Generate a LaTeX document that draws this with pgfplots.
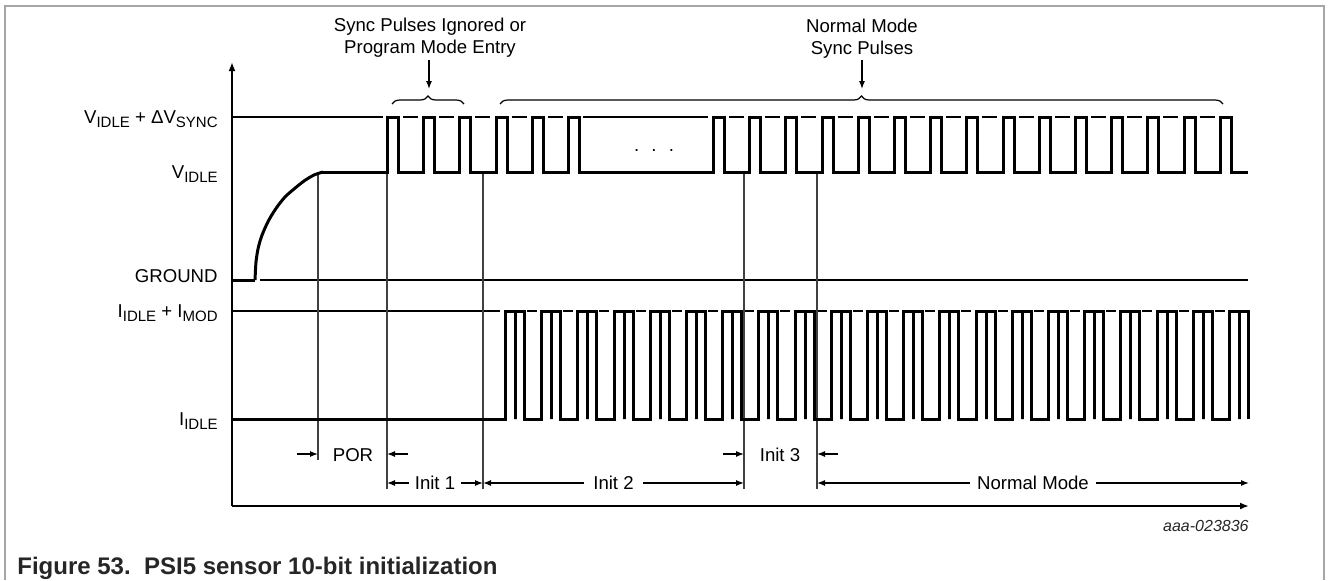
\documentclass[border=0pt]{standalone}
\usepackage{pgfplots}
\pgfplotsset{compat=1.18}
\usepackage{fontspec}
\setmainfont{Liberation Sans}
\usetikzlibrary{arrows.meta,decorations.pathreplacing}

% subscript as in the datasheet: smaller caps, slightly lowered
\newcommand\sub[1]{\raisebox{-2bp}{\fontsize{7.5bp}{8bp}\selectfont #1}}

\begin{document}
\begin{tikzpicture}[
  >={Latex[length=4bp,width=3bp]},
  lbl/.style={font=\fontsize{9.3bp}{11bp}\selectfont, inner sep=0pt},
  dim/.style={line width=0.6bp},
]
\begin{axis}[
  x=0.5bp, y=0.5bp, y dir=reverse,
  xmin=0, xmax=1328, ymin=0, ymax=580,
  hide axis, clip=false,
  every axis plot/.append style={line join=miter, mark=none},
]
\path (axis cs:0,0) rectangle (axis cs:1328,580);
% frame
\draw[black!35, line width=0.75bp] (axis cs:5,580) -- (axis cs:5,6) -- (axis cs:1324,6) -- (axis cs:1324,580);

% reference levels (thin)
\addplot[black, line width=0.7bp] coordinates {(232,117) (383,117)};
\addplot[black, line width=0.7bp] coordinates {(583,117) (708,117)};
\addplot[black, line width=0.7bp, dash pattern=on 7.5bp off 10.6bp] coordinates {(403,117) (563,117)};
\addplot[black, line width=0.7bp, dash pattern=on 7.5bp off 10.6bp] coordinates {(729,117) (1215,117)};
\addplot[black, line width=0.7bp] coordinates {(260,280) (1248,280)};
\addplot[black, line width=0.7bp] coordinates {(232,311) (500,311)};
\addplot[black, line width=0.7bp, dash pattern=on 5bp off 13.1bp] coordinates {(527,311) (1225,311)};

% phase boundaries
\addplot[black!75, line width=0.6bp] coordinates {(318,172) (318,460)};
\addplot[black!75, line width=0.6bp] coordinates {(387,172) (387,489)};
\addplot[black!75, line width=0.6bp] coordinates {(483,172) (483,489)};
\addplot[black!75, line width=0.6bp] coordinates {(744,172) (744,489)};
\addplot[black!75, line width=0.6bp] coordinates {(817,172) (817,489)};

% supply voltage: power-up ramp
\addplot[black, line width=1.5bp] coordinates {(232,280) (255,280)};
\addplot[black, line width=1.5bp, smooth] coordinates {
  (255,280) (256,262) (258,249) (261,238) (265,228) (270,218) (277,207)
  (285,197) (294,189) (304,181) (314,175) (323,172)};
% supply voltage: sync pulses
\addplot[black, line width=1.5bp] coordinates {
  (320,172)
  (387,172)(387,117)(398,117)(398,172)
  (423,172)(423,117)(434,117)(434,172)
  (459,172)(459,117)(470,117)(470,172)
  (496,172)(496,117)(507,117)(507,172)
  (532,172)(532,117)(543,117)(543,172)
  (568,172)(568,117)(579,117)(579,172)
  (713,172)(713,117)(724,117)(724,172)
  (749,172)(749,117)(760,117)(760,172)
  (785,172)(785,117)(796,117)(796,172)
  (822,172)(822,117)(833,117)(833,172)
  (858,172)(858,117)(869,117)(869,172)
  (894,172)(894,117)(905,117)(905,172)
  (930,172)(930,117)(941,117)(941,172)
  (966,172)(966,117)(977,117)(977,172)
  (1003,172)(1003,117)(1014,117)(1014,172)
  (1039,172)(1039,117)(1050,117)(1050,172)
  (1075,172)(1075,117)(1086,117)(1086,172)
  (1111,172)(1111,117)(1122,117)(1122,172)
  (1147,172)(1147,117)(1158,117)(1158,172)
  (1184,172)(1184,117)(1195,117)(1195,172)
  (1220,172)(1220,117)(1231,117)(1231,172)
  (1248,172)};

% sensor current
\addplot[black, line width=1.5bp] coordinates {
  (232,419)
  (505,419)(505,311)(515,311)(515,419)(515,311)(524,311)(524,419)
  (541,419)(541,311)(551,311)(551,419)(551,311)(560,311)(560,419)
  (577,419)(577,311)(587,311)(587,419)(587,311)(596,311)(596,419)
  (614,419)(614,311)(624,311)(624,419)(624,311)(633,311)(633,419)
  (650,419)(650,311)(660,311)(660,419)(660,311)(669,311)(669,419)
  (686,419)(686,311)(696,311)(696,419)(696,311)(705,311)(705,419)
  (722,419)(722,311)(732,311)(732,419)(732,311)(741,311)(741,419)
  (758,419)(758,311)(768,311)(768,419)(768,311)(777,311)(777,419)
  (795,419)(795,311)(805,311)(805,419)(805,311)(814,311)(814,419)
  (831,419)(831,311)(841,311)(841,419)(841,311)(850,311)(850,419)
  (867,419)(867,311)(877,311)(877,419)(877,311)(886,311)(886,419)
  (903,419)(903,311)(913,311)(913,419)(913,311)(922,311)(922,419)
  (939,419)(939,311)(949,311)(949,419)(949,311)(958,311)(958,419)
  (976,419)(976,311)(986,311)(986,419)(986,311)(995,311)(995,419)
  (1012,419)(1012,311)(1022,311)(1022,419)(1022,311)(1031,311)(1031,419)
  (1048,419)(1048,311)(1058,311)(1058,419)(1058,311)(1067,311)(1067,419)
  (1084,419)(1084,311)(1094,311)(1094,419)(1094,311)(1103,311)(1103,419)
  (1120,419)(1120,311)(1130,311)(1130,419)(1130,311)(1139,311)(1139,419)
  (1157,419)(1157,311)(1167,311)(1167,419)(1167,311)(1176,311)(1176,419)
  (1193,419)(1193,311)(1203,311)(1203,419)(1203,311)(1212,311)(1212,419)
  (1229,419)(1229,311)(1239,311)(1239,419)(1239,311)(1248,311)(1248,419)};

% axes
\draw[line width=0.9bp, -{Latex[length=4.5bp,width=3.5bp]}] (axis cs:232,506) -- (axis cs:232,62);
\draw[line width=0.9bp, -{Latex[length=4.5bp,width=3.5bp]}] (axis cs:232,506) -- (axis cs:1249,506);

% level labels
\node[lbl, anchor=base east] at (axis cs:218,123.5) {V\sub{IDLE} + ΔV\sub{SYNC}};
\node[lbl, anchor=base east] at (axis cs:218,178.5) {V\sub{IDLE}};
\node[lbl, anchor=base east] at (axis cs:218,282) {GROUND};
\node[lbl, anchor=base east] at (axis cs:218,317.5) {I\sub{IDLE} + I\sub{MOD}};
\node[lbl, anchor=base east] at (axis cs:218,425) {I\sub{IDLE}};

% dots for omitted pulses
\node[lbl, anchor=base] at (axis cs:654,151) {.\hspace{6.1bp}.\hspace{6.1bp}.};

% braces and call-outs
\draw[dim, decorate, decoration={brace, amplitude=4bp}] (axis cs:392,104) -- (axis cs:464,104);
\draw[dim, decorate, decoration={brace, amplitude=4bp}] (axis cs:500,104) -- (axis cs:1223,104);
\draw[dim, ->] (axis cs:429,60) -- (axis cs:429,89);
\draw[dim, ->] (axis cs:862,60) -- (axis cs:862,89);
\node[lbl, anchor=base] at (axis cs:430,31) {Sync Pulses Ignored or};
\node[lbl, anchor=base] at (axis cs:430,53) {Program Mode Entry};
\node[lbl, anchor=base] at (axis cs:862,32) {Normal Mode};
\node[lbl, anchor=base] at (axis cs:862,54) {Sync Pulses};

% phase durations
\draw[dim, ->] (axis cs:297,454) -- (axis cs:318,454);
\draw[dim, ->] (axis cs:408,454) -- (axis cs:387,454);
\node[lbl, anchor=base] at (axis cs:353,461) {POR};
\draw[dim, ->] (axis cs:723,454) -- (axis cs:744,454);
\draw[dim, ->] (axis cs:838,454) -- (axis cs:817,454);
\node[lbl, anchor=base] at (axis cs:780,461) {Init 3};
\draw[dim, <->] (axis cs:387,483) -- (axis cs:483,483)
  node[midway, lbl, fill=white, inner xsep=3bp, inner ysep=1bp] {Init 1};
\draw[dim, <->] (axis cs:483,483) -- (axis cs:744,483)
  node[midway, lbl, fill=white, inner xsep=4.5bp, inner ysep=1bp] {Init 2};
\draw[dim, <->] (axis cs:817,483) -- (axis cs:1249,483)
  node[midway, lbl, fill=white, inner xsep=3.5bp, inner ysep=1bp] {Normal Mode};

% figure id and caption
\node[anchor=base east, inner sep=0pt, font=\itshape\fontsize{8bp}{9bp}\selectfont, black!85] at (axis cs:1249,531.5) {aaa-023836};
\node[anchor=base west, inner sep=0pt, font=\bfseries\fontsize{12bp}{13bp}\selectfont, black!85] at (axis cs:17,574) {Figure 53.\ \ PSI5 sensor 10-bit initialization};
\end{axis}
\end{tikzpicture}
\end{document}
